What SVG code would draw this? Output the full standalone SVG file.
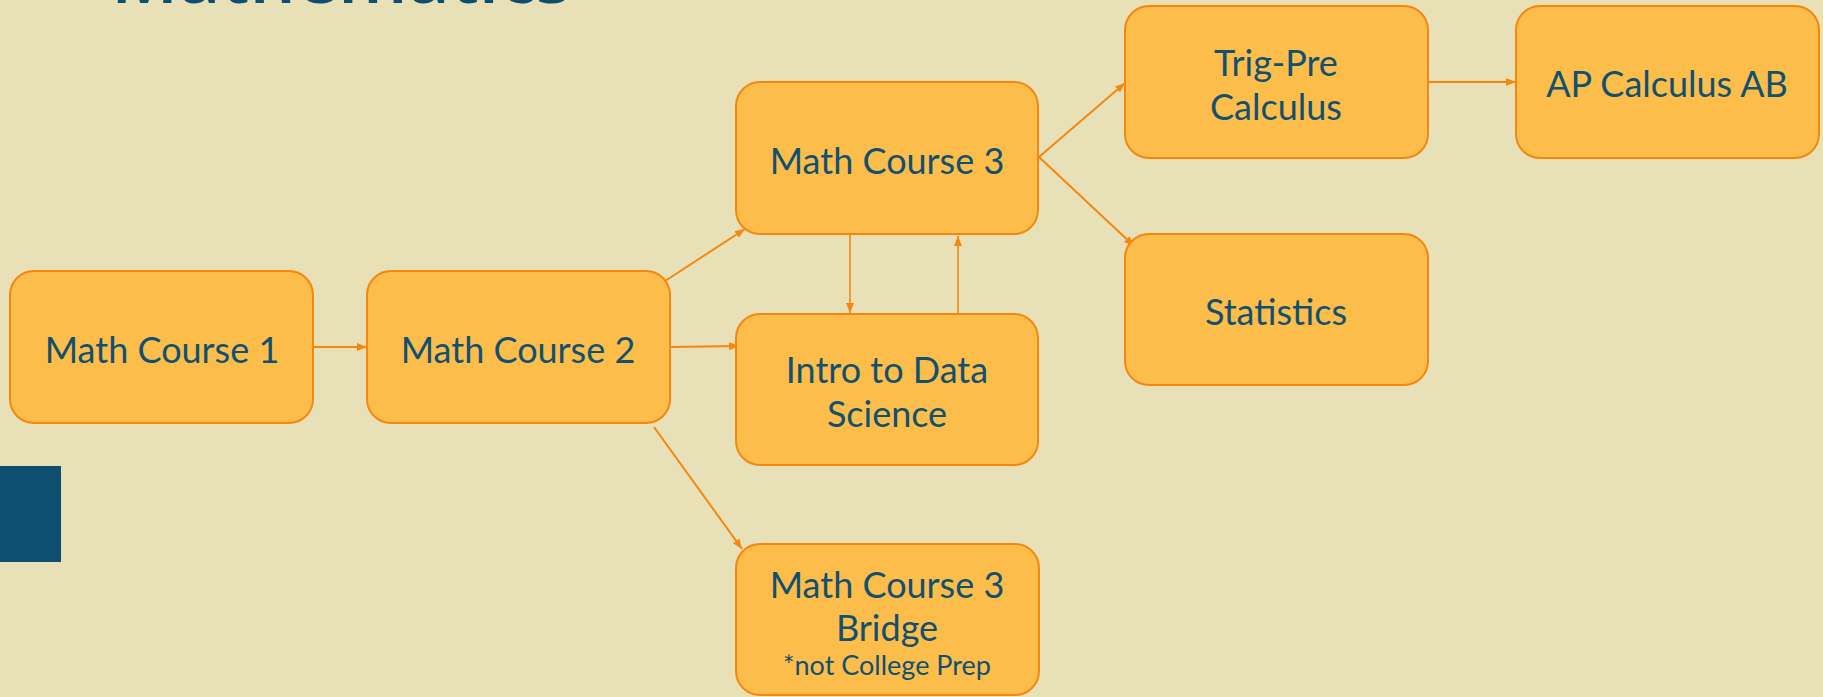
<svg xmlns="http://www.w3.org/2000/svg" width="1823" height="697" viewBox="0 0 1823 697">
  <defs>
    <marker id="arr" markerUnits="userSpaceOnUse" markerWidth="11" markerHeight="9" refX="10" refY="4" orient="auto">
      <path d="M0,0 L10,4 L0,8 Z" fill="#F5870F"/>
    </marker>
    <style>
      .box { fill: #FCBD4B; stroke: #F5870F; stroke-width: 2; }
      .lbl { font-family: Lato, "Open Sans", sans-serif; font-size: 36px; fill: #12506F; text-anchor: middle; }
      .small { font-size: 27px; }
      .conn path { fill: none; stroke: #F5870F; stroke-width: 2; marker-end: url(#arr); }
    </style>
  </defs>
  <rect x="0" y="0" width="1823" height="697" fill="#E8E1B7"/>
  <text x="111" y="3" font-family="'Open Sans', sans-serif" font-size="73" font-weight="600" fill="#0E4F6F">Mathematics</text>
  <rect x="0" y="466" width="61" height="96" fill="#0E4F6F"/>

  <g id="connectors" class="conn">
    <path d="M313,347 L367,347"/>
    <path d="M665,281 L745,229"/>
    <path d="M671,347 L739,346"/>
    <path d="M654,427 L742,549"/>
    <path d="M850,229 L850,313" style="stroke-width:1.6"/>
    <path d="M958,314 L958,236" style="stroke-width:1.6"/>
    <path d="M1039,157 L1125,83"/>
    <path d="M1039,157 L1134,246"/>
    <path d="M1428,82 L1516,82"/>
  </g>

  <g id="mc1">
    <rect class="box" x="10" y="271" width="303" height="152" rx="24"/>
    <text class="lbl" x="162" y="363">Math Course 1</text>
  </g>
  <g id="mc2">
    <rect class="box" x="367" y="271" width="303" height="152" rx="24"/>
    <text class="lbl" x="518" y="363">Math Course 2</text>
  </g>
  <g id="mc3">
    <rect class="box" x="736" y="82" width="302" height="152" rx="24"/>
    <text class="lbl" x="887" y="174">Math Course 3</text>
  </g>
  <g id="intro">
    <rect class="box" x="736" y="314" width="302" height="151" rx="24"/>
    <text class="lbl" x="887" y="383">Intro to Data</text>
    <text class="lbl" x="887" y="427">Science</text>
  </g>
  <g id="bridge">
    <rect class="box" x="736" y="544" width="303" height="151" rx="24"/>
    <text class="lbl" x="887" y="598">Math Course 3</text>
    <text class="lbl" x="887" y="641">Bridge</text>
    <text class="lbl small" x="887" y="675">*not College Prep</text>
  </g>
  <g id="trig">
    <rect class="box" x="1125" y="6" width="303" height="152" rx="24"/>
    <text class="lbl" x="1276" y="76">Trig-Pre</text>
    <text class="lbl" x="1276" y="120">Calculus</text>
  </g>
  <g id="ap">
    <rect class="box" x="1516" y="6" width="303" height="152" rx="24"/>
    <text class="lbl" x="1667" y="97">AP Calculus AB</text>
  </g>
  <g id="stats">
    <rect class="box" x="1125" y="234" width="303" height="151" rx="24"/>
    <text class="lbl" x="1276" y="325">Statistics</text>
  </g>
</svg>
